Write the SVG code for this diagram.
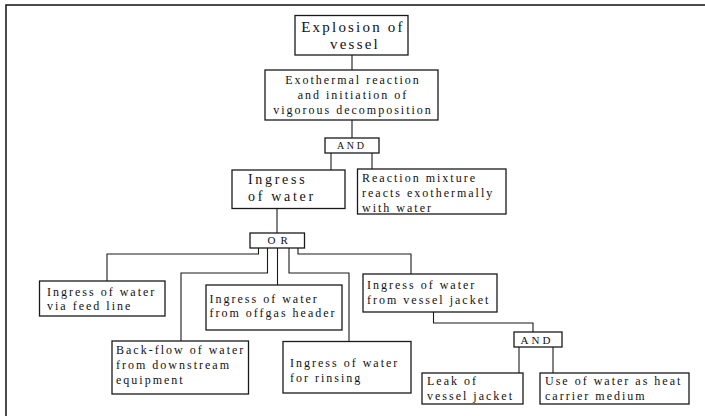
<svg xmlns="http://www.w3.org/2000/svg" width="705" height="416" viewBox="0 0 705 416">
<style>
.box{fill:#fff;stroke:#1a1a1a;stroke-width:1.3}
.t{font-family:"Liberation Serif","Times New Roman",serif;font-size:12px;letter-spacing:2px;fill:#111}
.c{stroke:#1a1a1a;stroke-width:1.1;fill:none}
.m{text-anchor:middle}
</style>
<rect width="705" height="416" fill="#fff"/>
<path d="M6 416 V5 H705" fill="none" stroke="#111" stroke-width="1.5"/>
<g id="connectors">
<path class="c" d="M352 55 V70"/>
<path class="c" d="M352 120 V138"/>
<path class="c" d="M331 153 V170"/>
<path class="c" d="M372 153 V169"/>
<path class="c" d="M277 208.5 V233"/>
<path class="c" d="M258.5 248 V254 H107 V281"/>
<path class="c" d="M267.5 248 V273 H181 V341"/>
<path class="c" d="M277.5 248 V285"/>
<path class="c" d="M289 248 V273 H349 V341.5"/>
<path class="c" d="M298 248 V254 H411 V274"/>
<path class="c" d="M433.5 312 V323 H533 V332"/>
<path class="c" d="M519 347 V373"/>
<path class="c" d="M553 347 V373"/>
</g>
<g id="explosion">
<rect class="box" x="295" y="15.5" width="113" height="39.5"/>
<text class="t m" x="353" y="31.5" style="font-size:15px;letter-spacing:2.2px">Explosion of</text>
<text class="t m" x="355" y="48.5" style="font-size:15px;letter-spacing:2.2px">vessel</text>
</g>
<g id="exothermal">
<rect class="box" x="265" y="70" width="173" height="50"/>
<text class="t m" x="353" y="84">Exothermal reaction</text>
<text class="t m" x="353" y="99">and initiation of</text>
<text class="t m" x="353" y="113.5">vigorous decomposition</text>
</g>
<g id="and1">
<rect class="box" x="325" y="138" width="54" height="15"/>
<text class="t" x="337" y="148.5" style="font-size:10px;letter-spacing:2.6px">AND</text>
</g>
<g id="ingress">
<rect class="box" x="232" y="170" width="113" height="38.5"/>
<text class="t" x="248" y="184" style="font-size:14px;letter-spacing:2.7px">Ingress</text>
<text class="t" x="248" y="201" style="font-size:14px;letter-spacing:2.7px">of  water</text>
</g>
<g id="reaction">
<rect class="box" x="357.5" y="169" width="148.5" height="45"/>
<text class="t" x="362" y="182">Reaction mixture</text>
<text class="t" x="362" y="197">reacts exothermally</text>
<text class="t" x="362" y="212">with water</text>
</g>
<g id="or">
<rect class="box" x="250" y="233" width="54.5" height="15"/>
<text class="t" x="267.5" y="244" style="font-size:11px;letter-spacing:5px">OR</text>
</g>
<g id="feed">
<rect class="box" x="39.5" y="281" width="125.5" height="35"/>
<text class="t" x="47" y="296">Ingress of water</text>
<text class="t" x="47" y="310">via feed line</text>
</g>
<g id="offgas">
<rect class="box" x="206" y="285" width="136" height="45"/>
<text class="t" x="209.5" y="303">Ingress of water</text>
<text class="t" x="209.5" y="317">from offgas header</text>
</g>
<g id="backflow">
<rect class="box" x="112" y="341" width="136.5" height="53"/>
<text class="t" x="116" y="354">Back-flow of water</text>
<text class="t" x="116" y="369">from downstream</text>
<text class="t" x="116" y="384">equipment</text>
</g>
<g id="rinsing">
<rect class="box" x="283" y="341.5" width="128" height="51.5"/>
<text class="t" x="290" y="367">Ingress of water</text>
<text class="t" x="290" y="382">for rinsing</text>
</g>
<g id="jacket">
<rect class="box" x="363" y="274" width="134" height="38"/>
<text class="t" x="367" y="289">Ingress of water</text>
<text class="t" x="367" y="304">from  vessel jacket</text>
</g>
<g id="and2">
<rect class="box" x="514" y="332" width="48" height="15"/>
<text class="t" x="520.5" y="344" style="font-size:11px;letter-spacing:3px">AND</text>
</g>
<g id="leak">
<rect class="box" x="422" y="373" width="101" height="31"/>
<text class="t" x="427" y="385">Leak of</text>
<text class="t" x="427" y="400">vessel jacket</text>
</g>
<g id="use">
<rect class="box" x="540" y="373" width="149" height="31"/>
<text class="t" x="545" y="385">Use of water as heat</text>
<text class="t" x="545" y="400">carrier medium</text>
</g>
</svg>
